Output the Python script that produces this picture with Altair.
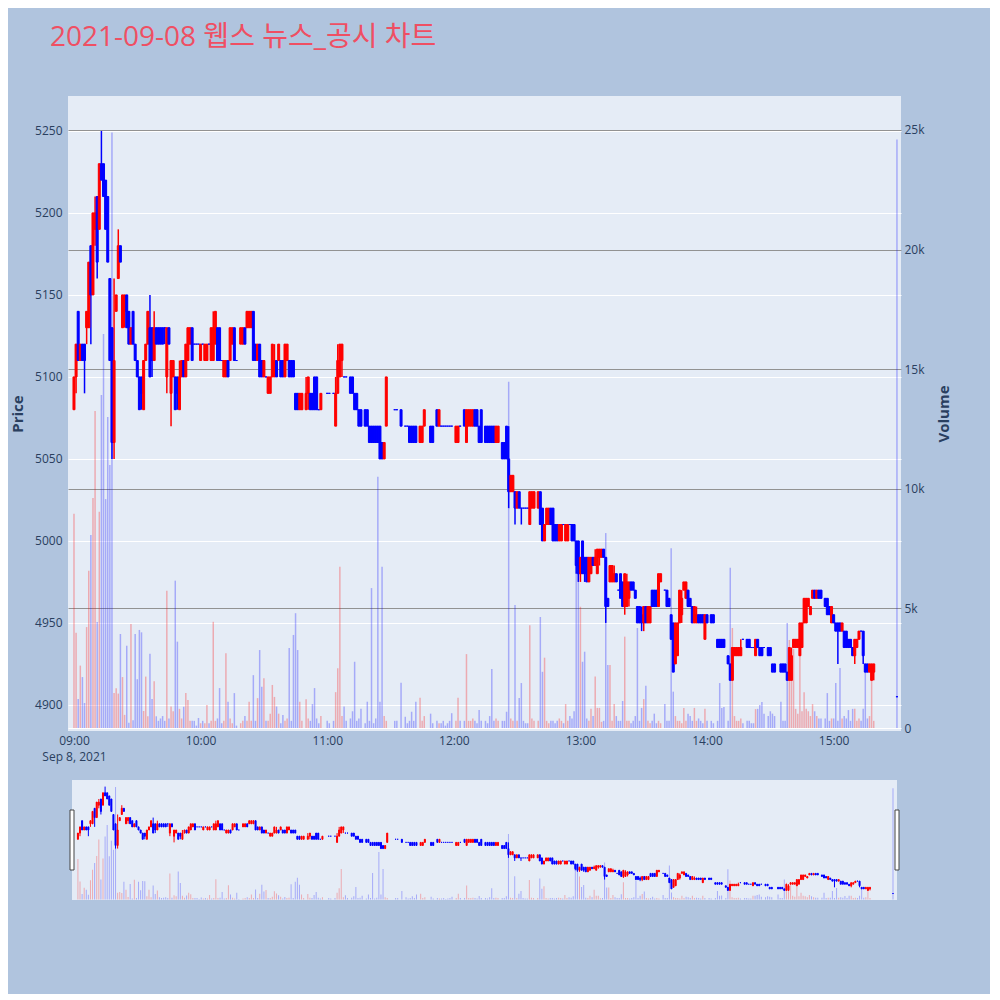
import altair as alt
import pandas as pd

TITLE = "2021-09-08 웹스 뉴스_공시 차트"
DATE = "2021-09-08"

# (minute of hour, open, high, low, close, volume)
h09 = [
    (0, 5080, 5100, 5080, 5100, 8960), (1, 5100, 5120, 5090, 5120, 3980), (2, 5140, 5140, 5110, 5110, 1210),
    (3, 5110, 5120, 5110, 5120, 2610), (4, 5120, 5120, 5110, 5110, 2130), (5, 5120, 5120, 5090, 5110, 1045),
    (6, 5130, 5140, 5120, 5140, 4220), (7, 5130, 5170, 5130, 5170, 6570), (8, 5180, 5180, 5120, 5150, 8070),
    (9, 5150, 5200, 5150, 5200, 9620), (10, 5190, 5210, 5180, 5200, 13250), (11, 5210, 5210, 5160, 5170, 4430),
    (12, 5190, 5230, 5190, 5230, 9040), (13, 5230, 5250, 5220, 5220, 13920), (14, 5230, 5230, 5210, 5210, 16470),
    (15, 5220, 5220, 5190, 5190, 9570), (16, 5210, 5210, 5170, 5170, 13000), (17, 5160, 5160, 5110, 5110, 11000),
    (18, 5130, 5130, 5050, 5060, 24900), (19, 5060, 5160, 5050, 5110, 1460), (20, 5140, 5150, 5140, 5150, 1660),
    (21, 5160, 5190, 5160, 5180, 1440), (22, 5180, 5180, 5170, 5170, 3930), (23, 5130, 5150, 5130, 5150, 2130),
    (24, 5140, 5150, 5130, 5150, 550), (25, 5150, 5150, 5130, 5130, 3440), (26, 5140, 5140, 5120, 5120, 220),
    (27, 5120, 5130, 5120, 5130, 4350), (28, 5140, 5140, 5120, 5120, 320), (29, 5120, 5120, 5110, 5110, 3930),
    (30, 5110, 5110, 5100, 5100, 2040), (31, 5100, 5100, 5080, 5080, 4100), (32, 5100, 5100, 5080, 5090, 4000),
    (33, 5080, 5110, 5080, 5110, 710), (34, 5110, 5120, 5110, 5120, 2150), (35, 5120, 5140, 5120, 5140, 490),
    (36, 5130, 5150, 5100, 5100, 3100), (37, 5130, 5130, 5100, 5110, 1210), (38, 5110, 5140, 5110, 5130, 1950),
    (39, 5130, 5130, 5120, 5120, 490), (40, 5130, 5130, 5120, 5120, 300), (41, 5130, 5130, 5120, 5120, 400),
    (42, 5130, 5130, 5120, 5120, 500), (43, 5130, 5130, 5120, 5130, 300), (44, 5100, 5130, 5090, 5130, 5740),
    (45, 5130, 5130, 5120, 5120, 400), (46, 5090, 5110, 5070, 5110, 900), (47, 5100, 5110, 5100, 5110, 700),
    (48, 5100, 5100, 5080, 5080, 6160), (49, 5100, 5100, 5080, 5090, 3610), (50, 5080, 5110, 5080, 5100, 800),
    (51, 5100, 5110, 5100, 5110, 400), (52, 5110, 5110, 5100, 5100, 890), (53, 5100, 5120, 5100, 5120, 1460),
    (54, 5110, 5130, 5110, 5130, 1170), (55, 5120, 5130, 5120, 5130, 300), (56, 5130, 5130, 5110, 5110, 300),
    (57, 5120, 5120, 5120, 5120, 300), (58, 5120, 5120, 5120, 5120, 100), (59, 5120, 5120, 5120, 5120, 420),
]
h10 = [
    (0, 5110, 5120, 5110, 5120, 200), (1, 5120, 5120, 5120, 5120, 300), (2, 5110, 5120, 5110, 5120, 200),
    (3, 5110, 5120, 5110, 5120, 960), (4, 5120, 5120, 5120, 5120, 200), (5, 5110, 5130, 5110, 5130, 300),
    (6, 5110, 5140, 5110, 5130, 4440), (7, 5120, 5140, 5120, 5140, 300), (8, 5130, 5130, 5110, 5110, 400),
    (9, 5130, 5130, 5110, 5110, 1670), (10, 5110, 5110, 5110, 5110, 200), (11, 5100, 5110, 5100, 5110, 300),
    (12, 5100, 5110, 5100, 5110, 3130), (13, 5110, 5110, 5100, 5100, 1100), (14, 5110, 5130, 5110, 5130, 400),
    (15, 5120, 5130, 5120, 5130, 200), (16, 5130, 5130, 5110, 5110, 1460), (17, 5110, 5110, 5110, 5110, 100),
    (19, 5120, 5130, 5120, 5130, 200), (20, 5120, 5130, 5120, 5130, 300), (21, 5130, 5130, 5120, 5120, 500),
    (22, 5130, 5140, 5130, 5140, 300), (23, 5130, 5140, 5130, 5140, 1100), (24, 5130, 5140, 5130, 5140, 300),
    (25, 5140, 5140, 5110, 5110, 2210), (26, 5120, 5120, 5110, 5110, 300), (27, 5110, 5120, 5110, 5120, 1250),
    (28, 5120, 5120, 5100, 5100, 3260), (29, 5110, 5110, 5100, 5100, 1730), (30, 5100, 5110, 5100, 5110, 2080),
    (31, 5100, 5100, 5100, 5100, 300), (32, 5090, 5100, 5090, 5100, 300), (33, 5090, 5100, 5090, 5100, 600),
    (34, 5100, 5120, 5100, 5120, 1800), (35, 5100, 5120, 5100, 5110, 1300), (36, 5110, 5110, 5100, 5100, 900),
    (37, 5110, 5120, 5110, 5120, 600), (38, 5110, 5110, 5100, 5100, 200), (39, 5110, 5110, 5100, 5100, 540),
    (40, 5100, 5120, 5100, 5120, 300), (41, 5110, 5120, 5110, 5120, 400), (42, 5110, 5110, 5100, 5100, 3340),
    (43, 5110, 5110, 5100, 5100, 300), (44, 5110, 5110, 5100, 5100, 3890), (45, 5090, 5090, 5080, 5080, 4800),
    (46, 5090, 5090, 5080, 5080, 3260), (47, 5080, 5090, 5080, 5090, 1100), (48, 5080, 5090, 5080, 5090, 300),
    (50, 5080, 5100, 5080, 5090, 1200), (51, 5090, 5100, 5080, 5100, 400), (52, 5090, 5090, 5080, 5080, 300),
    (53, 5090, 5090, 5080, 5080, 1000), (54, 5100, 5100, 5080, 5080, 1670), (55, 5100, 5100, 5080, 5080, 400),
    (56, 5080, 5080, 5080, 5080, 200), (57, 5080, 5090, 5080, 5090, 500),
]
h11 = [
    (0, 5090, 5090, 5090, 5090, 300), (1, 5090, 5090, 5090, 5090, 200), (3, 5090, 5090, 5090, 5090, 300),
    (4, 5070, 5100, 5070, 5090, 1500), (5, 5090, 5120, 5090, 5110, 2500), (6, 5100, 5120, 5100, 5120, 6740),
    (7, 5110, 5120, 5100, 5120, 500), (8, 5100, 5100, 5100, 5100, 900), (9, 5100, 5100, 5100, 5100, 300),
    (11, 5100, 5100, 5090, 5090, 400), (12, 5100, 5100, 5090, 5090, 700), (13, 5090, 5090, 5080, 5080, 2770),
    (14, 5090, 5090, 5080, 5080, 300), (15, 5080, 5080, 5070, 5070, 400), (16, 5080, 5080, 5070, 5070, 800),
    (18, 5080, 5080, 5070, 5070, 200), (19, 5080, 5080, 5070, 5070, 1100), (20, 5070, 5070, 5060, 5060, 300),
    (21, 5070, 5070, 5060, 5060, 5850), (22, 5070, 5070, 5060, 5060, 200), (23, 5070, 5070, 5060, 5060, 400),
    (24, 5070, 5070, 5060, 5060, 10500), (25, 5070, 5070, 5050, 5050, 1100), (26, 5060, 5060, 5050, 5050, 6740),
    (27, 5050, 5060, 5050, 5060, 500), (28, 5070, 5100, 5070, 5100, 300), (32, 5080, 5080, 5080, 5080, 300),
    (33, 5080, 5080, 5080, 5080, 300), (35, 5080, 5080, 5070, 5070, 1890), (37, 5070, 5070, 5070, 5070, 470),
    (38, 5070, 5070, 5070, 5070, 200), (39, 5070, 5070, 5060, 5060, 300), (40, 5070, 5070, 5060, 5060, 680),
    (41, 5070, 5070, 5060, 5060, 300), (42, 5070, 5070, 5060, 5060, 1100), (44, 5060, 5070, 5060, 5070, 1270),
    (45, 5060, 5070, 5060, 5070, 300), (46, 5070, 5080, 5070, 5080, 500), (49, 5070, 5070, 5060, 5060, 600),
    (50, 5070, 5070, 5060, 5060, 200), (52, 5080, 5080, 5070, 5070, 300), (53, 5070, 5080, 5070, 5080, 200),
    (54, 5070, 5070, 5070, 5070, 200), (55, 5070, 5070, 5070, 5070, 300), (56, 5070, 5070, 5070, 5070, 100),
    (57, 5070, 5070, 5070, 5070, 200), (58, 5070, 5070, 5070, 5070, 300), (59, 5070, 5070, 5070, 5070, 620),
]
h12 = [
    (1, 5060, 5070, 5060, 5070, 300), (2, 5060, 5070, 5060, 5070, 1270), (3, 5070, 5070, 5070, 5070, 300),
    (5, 5080, 5080, 5070, 5070, 300), (6, 5060, 5080, 5060, 5080, 3090), (7, 5070, 5080, 5070, 5080, 300),
    (8, 5070, 5080, 5070, 5080, 300), (9, 5070, 5080, 5070, 5080, 400), (10, 5080, 5080, 5070, 5070, 300),
    (11, 5080, 5080, 5070, 5070, 200), (12, 5070, 5070, 5060, 5060, 750), (13, 5080, 5080, 5060, 5060, 300),
    (15, 5070, 5070, 5060, 5060, 300), (16, 5070, 5070, 5060, 5060, 200), (17, 5070, 5070, 5060, 5060, 500),
    (18, 5070, 5070, 5060, 5060, 2470), (19, 5070, 5070, 5060, 5060, 300), (20, 5060, 5070, 5060, 5070, 400),
    (21, 5060, 5070, 5060, 5070, 300), (23, 5060, 5060, 5050, 5050, 300), (24, 5060, 5060, 5050, 5050, 300),
    (25, 5070, 5070, 5050, 5050, 680), (26, 5050, 5070, 5020, 5030, 14480), (27, 5030, 5040, 5030, 5040, 400),
    (28, 5030, 5040, 5030, 5040, 300), (29, 5030, 5030, 5010, 5020, 5140), (30, 5020, 5030, 5020, 5030, 300),
    (31, 5030, 5030, 5020, 5020, 1250), (32, 5020, 5020, 5010, 5020, 1880), (33, 5020, 5020, 5020, 5020, 300),
    (34, 5020, 5020, 5020, 5020, 200), (35, 5020, 5020, 5020, 5020, 200), (36, 5010, 5030, 5010, 5030, 4300),
    (37, 5020, 5030, 5020, 5030, 400), (38, 5020, 5030, 5020, 5030, 300), (40, 5020, 5030, 5020, 5030, 300),
    (41, 5030, 5030, 5010, 5010, 4640), (42, 5020, 5020, 5000, 5000, 2350), (43, 5000, 5010, 5000, 5010, 2940),
    (44, 5010, 5020, 5010, 5020, 300), (45, 5010, 5020, 5010, 5020, 200), (46, 5020, 5020, 5010, 5010, 300),
    (47, 5020, 5020, 5000, 5000, 300), (48, 5010, 5010, 5000, 5000, 200), (49, 5010, 5010, 5000, 5000, 300),
    (50, 5000, 5010, 5000, 5010, 400), (51, 5000, 5010, 5000, 5010, 300), (52, 5010, 5010, 5010, 5010, 200),
    (53, 5000, 5010, 5000, 5010, 1000), (54, 5000, 5010, 5000, 5010, 300), (55, 5010, 5010, 5010, 5010, 500),
    (56, 5010, 5010, 5000, 5000, 400), (57, 5010, 5010, 5000, 5000, 700), (58, 5000, 5000, 4980, 4985, 6810),
    (59, 5000, 5000, 4975, 4980, 6810),
]
h13 = [
    (0, 4980, 4990, 4975, 4990, 5070), (1, 5000, 5000, 4980, 4980, 2770), (2, 4990, 4990, 4975, 4980, 3190),
    (3, 4990, 4990, 4975, 4975, 400), (4, 4975, 4990, 4975, 4990, 300), (5, 4980, 4990, 4980, 4990, 800),
    (6, 4990, 4990, 4985, 4985, 500), (7, 4985, 4995, 4985, 4990, 2150), (8, 4980, 4995, 4980, 4995, 840),
    (9, 4990, 4995, 4985, 4995, 840), (10, 4990, 4995, 4990, 4995, 260), (11, 4995, 4995, 4990, 4990, 300),
    (12, 4990, 4990, 4950, 4960, 8150), (13, 4965, 4965, 4960, 4960, 2630), (14, 4975, 4985, 4975, 4985, 2630),
    (15, 4975, 4985, 4975, 4985, 300), (16, 4975, 4985, 4975, 4980, 1000), (17, 4980, 4980, 4975, 4975, 500),
    (18, 4970, 4970, 4970, 4970, 300), (19, 4980, 4980, 4965, 4965, 300), (20, 4975, 4975, 4960, 4960, 1130),
    (21, 4960, 4980, 4955, 4980, 3820), (22, 4960, 4980, 4960, 4975, 300), (23, 4965, 4975, 4960, 4975, 300),
    (24, 4975, 4975, 4970, 4970, 200), (25, 4975, 4975, 4970, 4970, 300), (26, 4970, 4970, 4965, 4965, 500),
    (27, 4960, 4960, 4950, 4950, 4180), (28, 4960, 4960, 4950, 4950, 300), (29, 4955, 4960, 4945, 4950, 840),
    (30, 4950, 4960, 4945, 4960, 1210), (31, 4960, 4960, 4950, 4950, 1770), (32, 4950, 4960, 4950, 4960, 300),
    (33, 4950, 4960, 4950, 4960, 200), (34, 4970, 4970, 4960, 4960, 300), (35, 4970, 4970, 4960, 4960, 600),
    (36, 4970, 4970, 4960, 4960, 200), (37, 4960, 4980, 4960, 4980, 300), (38, 4975, 4980, 4975, 4980, 200),
    (40, 4970, 4970, 4970, 4970, 1000), (41, 4970, 4970, 4960, 4960, 300), (42, 4965, 4965, 4960, 4960, 300),
    (43, 4955, 4955, 4940, 4940, 7520), (44, 4950, 4950, 4920, 4920, 1520), (45, 4925, 4950, 4925, 4950, 500),
    (46, 4930, 4950, 4930, 4950, 300), (47, 4950, 4970, 4950, 4970, 300), (48, 4955, 4970, 4950, 4965, 200),
    (49, 4970, 4975, 4970, 4975, 840), (50, 4965, 4975, 4965, 4975, 300), (51, 4970, 4970, 4960, 4960, 600),
    (52, 4965, 4965, 4960, 4960, 500), (53, 4960, 4960, 4950, 4950, 300), (54, 4950, 4960, 4950, 4960, 840),
    (55, 4950, 4960, 4950, 4955, 300), (56, 4955, 4955, 4950, 4950, 400), (57, 4955, 4955, 4950, 4950, 300),
    (58, 4955, 4955, 4950, 4950, 200), (59, 4940, 4955, 4940, 4955, 800),
]
h14 = [
    (0, 4955, 4955, 4950, 4950, 300), (2, 4955, 4955, 4950, 4950, 300), (3, 4955, 4955, 4950, 4950, 200),
    (5, 4940, 4940, 4935, 4935, 300), (6, 4940, 4940, 4935, 4935, 1880), (7, 4940, 4940, 4935, 4935, 840),
    (8, 4940, 4940, 4935, 4935, 880), (10, 4930, 4930, 4925, 4925, 300), (11, 4925, 4925, 4915, 4915, 6700),
    (12, 4915, 4935, 4915, 4935, 4180), (13, 4930, 4935, 4930, 4935, 500), (14, 4930, 4935, 4930, 4935, 300),
    (15, 4930, 4935, 4930, 4935, 300), (16, 4930, 4940, 4930, 4935, 400), (17, 4940, 4940, 4940, 4940, 200),
    (19, 4940, 4940, 4935, 4935, 300), (20, 4940, 4940, 4935, 4935, 300), (21, 4935, 4935, 4935, 4935, 200),
    (22, 4935, 4935, 4935, 4935, 200), (23, 4930, 4940, 4930, 4940, 790), (24, 4940, 4940, 4935, 4935, 800),
    (25, 4935, 4935, 4930, 4930, 960), (26, 4935, 4935, 4930, 4930, 1090), (27, 4935, 4935, 4935, 4935, 600),
    (29, 4935, 4935, 4930, 4930, 500), (30, 4935, 4935, 4930, 4930, 700), (31, 4925, 4925, 4920, 4920, 600),
    (32, 4925, 4925, 4920, 4920, 500), (35, 4925, 4925, 4920, 4920, 1100), (36, 4925, 4925, 4920, 4920, 300),
    (37, 4925, 4925, 4920, 4920, 300), (38, 4920, 4920, 4915, 4915, 4390), (39, 4915, 4935, 4915, 4935, 3680),
    (40, 4915, 4935, 4915, 4930, 3000), (41, 4935, 4940, 4935, 4940, 3300), (42, 4935, 4940, 4935, 4940, 800),
    (43, 4935, 4940, 4935, 4940, 600), (44, 4930, 4950, 4930, 4950, 3710), (45, 4935, 4950, 4935, 4950, 700),
    (46, 4950, 4965, 4950, 4965, 1500), (47, 4950, 4965, 4950, 4965, 800), (48, 4960, 4965, 4960, 4965, 700),
    (49, 4955, 4960, 4955, 4960, 500), (50, 4965, 4970, 4965, 4970, 1000), (51, 4970, 4970, 4965, 4965, 700),
    (52, 4965, 4970, 4965, 4970, 500), (53, 4970, 4970, 4965, 4965, 400), (54, 4970, 4970, 4965, 4965, 400),
    (56, 4965, 4965, 4960, 4960, 400), (57, 4965, 4965, 4955, 4955, 1460), (58, 4960, 4960, 4955, 4955, 300),
    (59, 4950, 4960, 4950, 4960, 400),
]
h15 = [
    (0, 4955, 4955, 4950, 4950, 400), (1, 4950, 4950, 4945, 4945, 1880), (2, 4950, 4950, 4925, 4945, 300),
    (3, 4950, 4950, 4945, 4945, 2510), (4, 4945, 4950, 4945, 4950, 400), (5, 4945, 4945, 4935, 4935, 500),
    (6, 4945, 4945, 4935, 4935, 400), (7, 4940, 4940, 4935, 4935, 750), (8, 4940, 4940, 4935, 4935, 300),
    (9, 4935, 4935, 4930, 4930, 800), (10, 4930, 4940, 4925, 4940, 800), (11, 4935, 4940, 4935, 4940, 300),
    (12, 4940, 4945, 4940, 4945, 400), (13, 4945, 4945, 4945, 4945, 300), (14, 4945, 4945, 4925, 4930, 800),
    (15, 4925, 4925, 4920, 4920, 2350), (16, 4925, 4925, 4920, 4920, 400), (17, 4920, 4925, 4920, 4925, 500),
    (18, 4915, 4925, 4915, 4925, 2420), (19, 4920, 4925, 4915, 4925, 300), (30, 4905, 4905, 4905, 4905, 24600),
]

hour_blocks = [(9, h09), (10, h10), (11, h11), (12, h12), (13, h13), (14, h14), (15, h15)]
rows = []
for hr, block in hour_blocks:
    for mm, o, hi, lo, c, v in block:
        rows.append({
            "t": f"{DATE}T{hr:02d}:{mm:02d}:00",
            "open": o, "high": hi, "low": lo, "close": c, "volume": v,
            "dir": "up" if c > o else "down",
        })
df = pd.DataFrame(rows)

PRICE_TICKS = [4900, 4950, 5000, 5050, 5100, 5150, 5200, 5250]
VOL_TICKS = [0, 5000, 10000, 15000, 20000, 25000]
HOUR_TICKS = [9, 10, 11, 12, 13, 14, 15]

FONT = "Open Sans, Noto Sans CJK KR, sans-serif"
TXT = "#2a3f5f"
BG = "#B0C4DE"
PLOT_BG = "#E5ECF6"

t0 = alt.DateTime(year=2021, month=9, date=8, hours=8, minutes=57, seconds=10)
t1 = alt.DateTime(year=2021, month=9, date=8, hours=15, minutes=31, seconds=55)
price_dom = [4884.1, 5271.3]
vol_dom = [-125, 26421]

color_scale = alt.Scale(domain=["up", "down"], range=["#ff0000", "#0000ff"])

W, H = 833, 635
OH = 120


def layers(main):
    base = alt.Chart(df)
    if main:
        xaxis = alt.Axis(
            values=[alt.DateTime(year=2021, month=9, date=8, hours=h) for h in HOUR_TICKS],
            labelExpr="hours(datum.value) == 9 ? [timeFormat(datum.value, '%H:%M'), 'Sep 8, 2021'] : timeFormat(datum.value, '%H:%M')",
            grid=False, ticks=False, tickSize=0, domain=False, labelPadding=4,
            labelFont=FONT, labelFontSize=12, labelColor=TXT, labelLineHeight=16, title=None,
        )
        xs = alt.Scale(domain=[t0, t1], padding=0)
    else:
        xaxis = None
        xs = alt.Scale(domain=[t0, t1], range=[4, 829], padding=0)
    x = alt.X("t:T", scale=xs, axis=xaxis)
    pscale = alt.Scale(domain=price_dom, zero=False, nice=False)
    vscale = alt.Scale(domain=vol_dom, zero=False, nice=False)
    if main:
        paxis = alt.Axis(
            values=PRICE_TICKS, format="d", title="Price", grid=True, gridColor="white", gridWidth=1,
            ticks=False, tickSize=0, domain=False, labelPadding=6, titlePadding=9,
            labelFont=FONT, labelFontSize=12, labelColor=TXT,
            titleFont=FONT, titleFontSize=15, titleFontWeight="bold", titleColor=TXT,
        )
        vaxis = alt.Axis(
            orient="right", values=VOL_TICKS,
            labelExpr="datum.value == 0 ? '0' : format(datum.value / 1000, 'd') + 'k'",
            title="Volume", grid=True,
            gridColor={"condition": {"test": "datum.value === 0", "value": "#ffffff"}, "value": "#929292"},
            gridWidth=1, ticks=False, tickSize=0, domain=False, labelPadding=3, titlePadding=27,
            titleAngle=270,
            labelFont=FONT, labelFontSize=12, labelColor=TXT,
            titleFont=FONT, titleFontSize=15, titleFontWeight="bold", titleColor=TXT,
        )
    else:
        paxis = None
        vaxis = None
    color = alt.Color("dir:N", scale=color_scale, legend=None)
    stroke = alt.Stroke("dir:N", scale=color_scale, legend=None)
    wick = base.mark_rule(strokeWidth=1.5 if main else 1).encode(
        x=x, y=alt.Y("low:Q", scale=pscale, axis=paxis), y2="high:Q", color=color
    )
    body = base.mark_bar(width=2 if main else 1, strokeWidth=1).encode(
        x=x, y=alt.Y("open:Q", scale=pscale, axis=None), y2="close:Q", color=color, stroke=stroke
    )
    vol = base.mark_bar(width=1.5 if main else 1, opacity=0.28).encode(
        x=x, y=alt.Y("volume:Q", scale=vscale, axis=vaxis), y2=alt.datum(0), color=color
    )
    return wick, body, vol


wick, body, vol = layers(True)
main_chart = alt.layer(wick, body, vol).resolve_scale(y="independent").properties(width=W, height=H)

ow, ob, ov = layers(False)
bg_df = pd.DataFrame({"a": [f"{DATE}T08:57:10"], "b": [f"{DATE}T15:31:55"]})
ox = alt.Scale(domain=[t0, t1], range=[4, 829], padding=0)
slider_bg = alt.Chart(bg_df).mark_rect(color=PLOT_BG).encode(
    x=alt.X("a:T", scale=ox, axis=None), x2="b:T", y=alt.value(0), y2=alt.value(OH)
)
handle_df = pd.DataFrame({"h": [f"{DATE}T08:57:10", f"{DATE}T15:31:55"]})
handles = alt.Chart(handle_df).mark_bar(width=4, fill="white", stroke="#444444", strokeWidth=1).encode(
    x=alt.X("h:T", scale=ox, axis=None), y=alt.value(30), y2=alt.value(90)
)
overview = alt.layer(slider_bg, ow, ob, ov, handles).resolve_scale(y="independent").properties(
    width=W, height=OH, view=alt.ViewConfig(fill=BG, stroke=None)
)

chart = alt.vconcat(main_chart, overview, spacing=49, bounds="flush").resolve_scale(
    x="independent"
).properties(
    title=alt.TitleParams(
        text=TITLE, anchor="start", frame="group", fontSize=28, fontWeight="normal",
        font=FONT, color="#EF4F63", dx=-18, offset=16, baseline="bottom",
    ),
    padding={"left": 2, "top": 16, "right": 38, "bottom": 94},
    background=BG,
).configure_view(stroke=None, fill=PLOT_BG).configure_concat(spacing=49)

chart.save("out.html", embed_options={"renderer": "svg", "actions": False})
